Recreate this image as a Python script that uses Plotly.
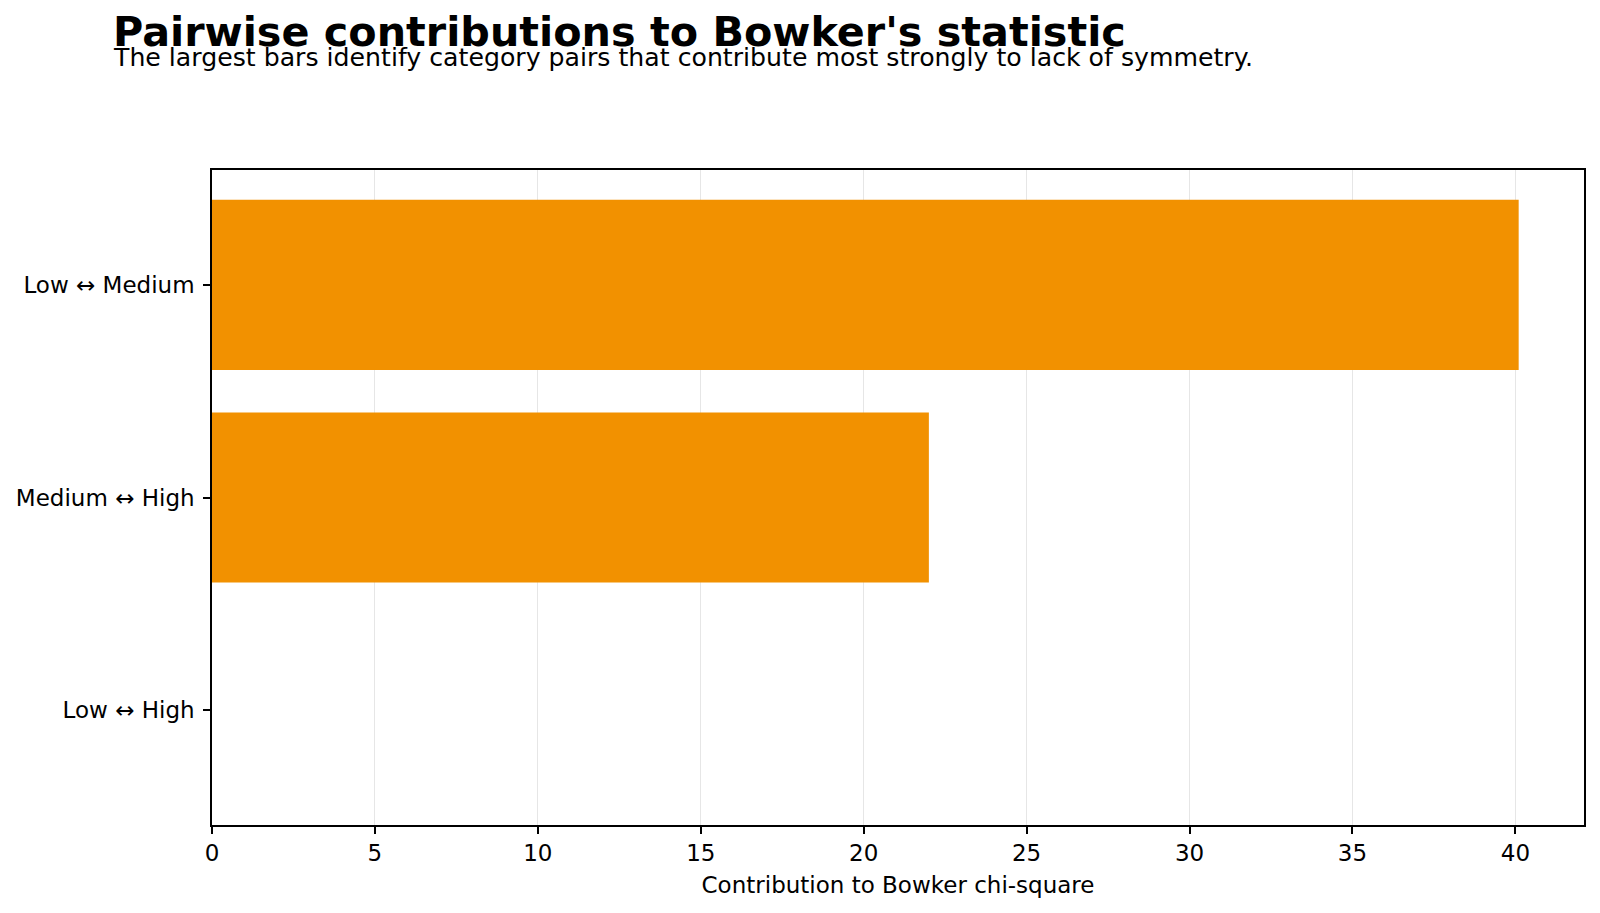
import plotly.graph_objects as go

pairs = ["Low ↔ Medium", "Medium ↔ High", "Low ↔ High"]
contributions = [40.1, 22.0, 0.0]
x_ticks = [0, 5, 10, 15, 20, 25, 30, 35, 40]

title_text = "Pairwise contributions to Bowker's statistic"
subtitle_text = "The largest bars identify category pairs that contribute most strongly to lack of symmetry."
x_label = "Contribution to Bowker chi-square"

FONT = "DejaVu Sans"
W, H = 1600, 913
L, R, T, B = 212, 16, 170, 88

fig = go.Figure(
    go.Bar(
        x=contributions,
        y=pairs,
        orientation="h",
        marker=dict(color="#F29100", line=dict(width=0)),
        width=0.8,
    )
)

xmax = max(contributions) * 1.05

fig.update_layout(
    width=W,
    height=H,
    margin=dict(l=L, r=R, t=T, b=B),
    plot_bgcolor="white",
    paper_bgcolor="white",
    showlegend=False,
    font=dict(family=FONT, size=23, color="black"),
    bargap=0.2,
)

fig.update_xaxes(
    range=[0, xmax],
    tickvals=x_ticks,
    showgrid=True,
    gridcolor="#e6e6e6",
    gridwidth=1.2,
    zeroline=False,
    showline=True,
    mirror=True,
    linecolor="black",
    linewidth=1.6,
    ticks="outside",
    ticklen=7,
    tickwidth=1.6,
    tickcolor="black",
    tickfont=dict(family=FONT, size=23, color="black"),
    title=dict(text=x_label, font=dict(family=FONT, size=23, color="black"), standoff=11),
)

fig.update_yaxes(
    categoryorder="array",
    categoryarray=pairs,
    range=[2.54, -0.54],
    showgrid=False,
    zeroline=False,
    showline=True,
    mirror=True,
    linecolor="black",
    linewidth=1.6,
    ticks="outside",
    ticklen=7,
    tickwidth=1.6,
    tickcolor="black",
    ticklabelstandoff=4,
    tickfont=dict(family=FONT, size=23, color="black"),
)

pw = W - L - R
ph = H - T - B

def px_x(px):
    return (px - L) / pw

def px_y(py):
    return 1 - (py - T) / ph

fig.add_annotation(
    text="<b>" + title_text + "</b>",
    xref="paper", yref="paper",
    x=px_x(111), y=px_y(32),
    xanchor="left", yanchor="middle",
    showarrow=False,
    font=dict(family=FONT, size=41.3, color="black"),
)
fig.add_annotation(
    text=subtitle_text,
    xref="paper", yref="paper",
    x=px_x(111), y=px_y(57.5),
    xanchor="left", yanchor="middle",
    showarrow=False,
    font=dict(family=FONT, size=25.2, color="black"),
)

fig.write_html("out.html")
